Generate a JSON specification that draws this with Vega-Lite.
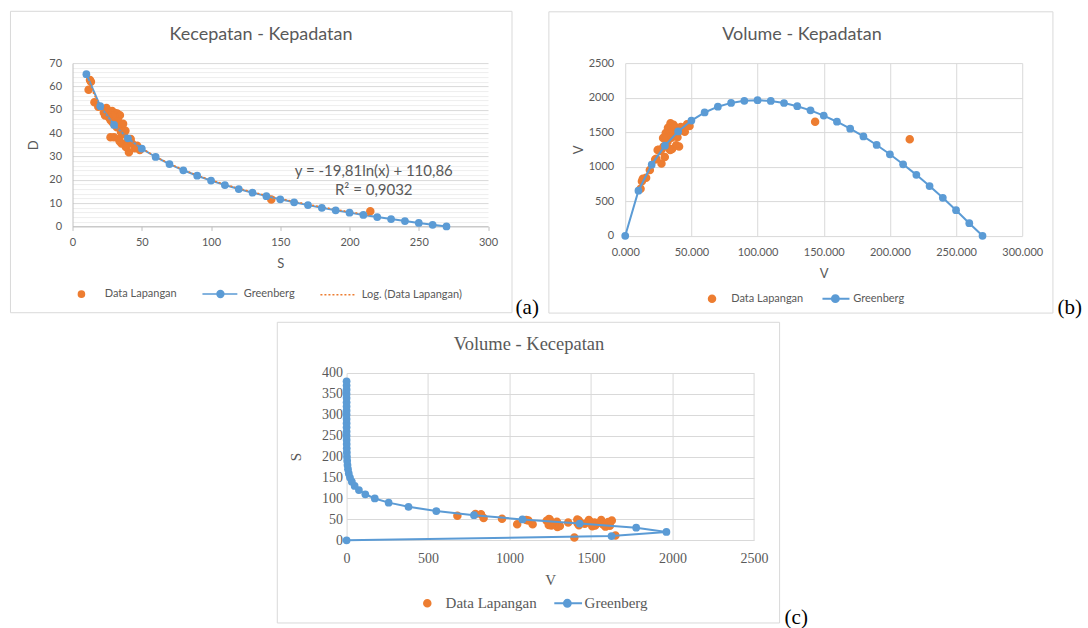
{
  "$schema": "https://vega.github.io/schema/vega-lite/v6.json",
  "padding": {"left": 9.25, "top": 10.1, "right": 0, "bottom": 0},
  "autosize": {"type": "pad"},
  "background": "white",
  "bounds": "full",
  "center": true,
  "spacing": 2.9,
  "resolve": {"scale": {"color": "independent", "shape": "independent", "stroke": "independent"}, "legend": {"color": "independent", "shape": "independent", "stroke": "independent"}},
  "config": {
    "view": {"stroke": null},
    "font": "Lato",
    "axis": {"labelColor": "#595959", "titleColor": "#595959", "labelFont": "Lato", "titleFont": "Lato", "labelFontSize": 11, "titleFontSize": 13, "titleFontWeight": "normal", "gridColor": "#D9D9D9", "gridWidth": 1, "domain": false, "ticks": false, "labelFlush": false, "labelOverlap": false, "labelAngle": 0},
    "legend": {"labelColor": "#595959", "labelFont": "Lato", "labelFontSize": 11, "padding": 0}
  },
  "datasets": {
    "lapangan": [
      {"density": 12.6, "speed": 62.8, "volume": 791},
      {"density": 13.3, "speed": 62.0, "volume": 825},
      {"density": 11.6, "speed": 58.6, "volume": 680},
      {"density": 15.8, "speed": 53.2, "volume": 841},
      {"density": 18.6, "speed": 51.3, "volume": 954},
      {"density": 24.5, "speed": 50.7, "volume": 1242},
      {"density": 22.6, "speed": 48.8, "volume": 1103},
      {"density": 23.5, "speed": 47.5, "volume": 1116},
      {"density": 25.2, "speed": 49.5, "volume": 1247},
      {"density": 26.3, "speed": 46.7, "volume": 1228},
      {"density": 28.6, "speed": 49.5, "volume": 1416},
      {"density": 30.6, "speed": 48.6, "volume": 1487},
      {"density": 32.3, "speed": 48.4, "volume": 1563},
      {"density": 34.2, "speed": 47.6, "volume": 1628},
      {"density": 31.0, "speed": 46.0, "volume": 1426},
      {"density": 33.5, "speed": 44.6, "volume": 1494},
      {"density": 35.9, "speed": 42.4, "volume": 1522},
      {"density": 38.2, "speed": 41.0, "volume": 1566},
      {"density": 27.4, "speed": 38.2, "volume": 1047},
      {"density": 29.9, "speed": 38.2, "volume": 1142},
      {"density": 33.5, "speed": 37.5, "volume": 1256},
      {"density": 35.4, "speed": 35.5, "volume": 1257},
      {"density": 39.5, "speed": 36.1, "volume": 1426},
      {"density": 43.1, "speed": 35.4, "volume": 1526},
      {"density": 46.7, "speed": 34.6, "volume": 1616},
      {"density": 40.7, "speed": 31.8, "volume": 1294},
      {"density": 48.6, "speed": 32.7, "volume": 1589},
      {"density": 45.0, "speed": 33.5, "volume": 1508},
      {"density": 37.0, "speed": 39.5, "volume": 1462},
      {"density": 36.5, "speed": 44.0, "volume": 1606},
      {"density": 29.0, "speed": 44.5, "volume": 1291},
      {"density": 27.5, "speed": 45.5, "volume": 1251},
      {"density": 32.0, "speed": 42.5, "volume": 1360},
      {"density": 35.0, "speed": 40.5, "volume": 1418},
      {"density": 42.0, "speed": 37.5, "volume": 1575},
      {"density": 38.5, "speed": 34.0, "volume": 1309},
      {"density": 143.5, "speed": 11.5, "volume": 1650},
      {"density": 215.0, "speed": 6.5, "volume": 1398},
      {"density": 30.0, "speed": 47.5, "volume": 1425},
      {"density": 34.0, "speed": 36.5, "volume": 1241}
    ],
    "greenberg_k": [
      {"density": 0, "speed": null, "volume": 0},
      {"density": 10, "speed": 65.25, "volume": 652.5},
      {"density": 20, "speed": 51.51, "volume": 1030.2},
      {"density": 30, "speed": 43.48, "volume": 1304.4},
      {"density": 40, "speed": 37.78, "volume": 1511.2},
      {"density": 50, "speed": 33.36, "volume": 1668.0},
      {"density": 60, "speed": 29.75, "volume": 1785.0},
      {"density": 70, "speed": 26.70, "volume": 1869.0},
      {"density": 80, "speed": 24.05, "volume": 1924.0},
      {"density": 90, "speed": 21.72, "volume": 1954.8},
      {"density": 100, "speed": 19.63, "volume": 1963.0},
      {"density": 110, "speed": 17.74, "volume": 1951.4},
      {"density": 120, "speed": 16.02, "volume": 1922.4},
      {"density": 130, "speed": 14.43, "volume": 1875.9},
      {"density": 140, "speed": 12.97, "volume": 1815.8},
      {"density": 150, "speed": 11.60, "volume": 1740.0},
      {"density": 160, "speed": 10.32, "volume": 1651.2},
      {"density": 170, "speed": 9.12, "volume": 1550.4},
      {"density": 180, "speed": 7.99, "volume": 1438.2},
      {"density": 190, "speed": 6.92, "volume": 1314.8},
      {"density": 200, "speed": 5.90, "volume": 1180.0},
      {"density": 210, "speed": 4.93, "volume": 1035.3},
      {"density": 220, "speed": 4.01, "volume": 882.2},
      {"density": 230, "speed": 3.13, "volume": 719.9},
      {"density": 240, "speed": 2.29, "volume": 549.6},
      {"density": 250, "speed": 1.48, "volume": 370.0},
      {"density": 260, "speed": 0.70, "volume": 182.0},
      {"density": 270, "speed": 0.00, "volume": 0}
    ],
    "greenberg_s": [
      {"speed": 0, "volume": 0},
      {"speed": 10, "volume": 1626.1},
      {"speed": 20, "volume": 1963.1},
      {"speed": 30, "volume": 1777.5},
      {"speed": 40, "volume": 1430.6},
      {"speed": 50, "volume": 1079.5},
      {"speed": 60, "volume": 781.9},
      {"speed": 70, "volume": 550.6},
      {"speed": 80, "volume": 379.9},
      {"speed": 90, "volume": 258.0},
      {"speed": 100, "volume": 173.0},
      {"speed": 110, "volume": 114.9},
      {"speed": 120, "volume": 75.6},
      {"speed": 130, "volume": 49.5},
      {"speed": 140, "volume": 32.2},
      {"speed": 150, "volume": 20.8},
      {"speed": 160, "volume": 13.4},
      {"speed": 170, "volume": 8.6},
      {"speed": 180, "volume": 5.5},
      {"speed": 190, "volume": 3.5},
      {"speed": 200, "volume": 2.2},
      {"speed": 210, "volume": 1.4},
      {"speed": 220, "volume": 0.9},
      {"speed": 230, "volume": 0.6},
      {"speed": 240, "volume": 0.35},
      {"speed": 250, "volume": 0.22},
      {"speed": 260, "volume": 0.14},
      {"speed": 270, "volume": 0.09},
      {"speed": 280, "volume": 0.05},
      {"speed": 290, "volume": 0.03},
      {"speed": 300, "volume": 0.02},
      {"speed": 310, "volume": 0.01},
      {"speed": 320, "volume": 0.01},
      {"speed": 330, "volume": 0},
      {"speed": 340, "volume": 0},
      {"speed": 350, "volume": 0},
      {"speed": 360, "volume": 0},
      {"speed": 370, "volume": 0},
      {"speed": 380, "volume": 0}
    ]
  },
  "vconcat": [
    {
      "bounds": "flush",
      "spacing": 136.7,
      "resolve": {"scale": {"color": "independent", "shape": "independent", "stroke": "independent"}, "legend": {"color": "independent", "shape": "independent", "stroke": "independent"}},
      "hconcat": [
        {
          "width": 415.5,
          "height": 163.3,
          "data": {"name": "lapangan"},
          "layer": [
            {
              "data": {"values": [{}]},
              "mark": {"type": "rect", "filled": false, "stroke": "#D9D9D9", "strokeWidth": 1},
              "encoding": {
                "x": {"datum": -44.8, "type": "quantitative", "scale": {"domain": [0, 300], "nice": false, "zero": false},
                  "axis": {"title": "S", "values": [0, 50, 100, 150, 200, 250, 300], "tickCount": 100, "format": "d", "grid": false, "domain": true, "domainColor": "#BFBFBF", "ticks": true, "tickColor": "#BFBFBF", "tickSize": 4, "labelPadding": 6, "titlePadding": 10, "labelOverlap": false}},
                "x2": {"datum": 317.3},
                "y": {"datum": 92.2, "type": "quantitative", "scale": {"domain": [0, 70], "nice": false, "zero": false},
                  "axis": {"title": "D", "values": [0, 2, 4, 6, 8, 10, 12, 14, 16, 18, 20, 22, 24, 26, 28, 30, 32, 34, 36, 38, 40, 42, 44, 46, 48, 50, 52, 54, 56, 58, 60, 62, 64, 66, 68, 70], "tickCount": 100, "format": "d", "grid": true, "gridColor": {"condition": {"test": "datum.value % 10 === 0", "value": "#D9D9D9"}, "value": "#EEEEEE"}, "labelExpr": "datum.value % 10 === 0 ? datum.label : ''", "domain": true, "domainColor": "#BFBFBF", "labelPadding": 11, "titlePadding": 8.7, "labelOverlap": false}},
                "y2": {"datum": -37.0}
              }
            },
            {
              "mark": {"type": "point", "filled": true, "size": 1697, "opacity": 1, "strokeWidth": 1.5},
              "encoding": {
                "x": {"field": "density", "type": "quantitative", "scale": {"domain": [0, 300], "nice": false, "zero": false}},
                "y": {"field": "speed", "type": "quantitative", "scale": {"domain": [0, 70], "nice": false, "zero": false}},
                "color": {"datum": "Data Lapangan", "type": "nominal",
                  "scale": {"domain": ["Data Lapangan", "Greenberg", "Log. (Data Lapangan)"], "range": ["#ED7D31", "#5B9BD5", "#ED7D31"]},
                  "legend": {"title": null, "orient": "none", "legendX": -10.1, "legendY": 211.6, "direction": "horizontal", "symbolSize": 1296, "symbolStrokeWidth": 1.5, "labelOffset": 4.3, "columnPadding": 22}},
                "stroke": {"datum": "Data Lapangan", "type": "nominal",
                  "scale": {"domain": ["Data Lapangan", "Greenberg", "Log. (Data Lapangan)"], "range": ["#ED7D31", "#5B9BD5", "#ED7D31"]},
                  "legend": {"title": null, "orient": "none", "legendX": -10.1, "legendY": 211.6, "direction": "horizontal", "symbolSize": 1296, "symbolStrokeWidth": 1.5, "labelOffset": 4.3, "columnPadding": 22}},
                "shape": {"datum": "Data Lapangan", "type": "nominal",
                  "scale": {"domain": ["Data Lapangan", "Greenberg", "Log. (Data Lapangan)"], "range": [
                    "M-0.17,0A0.17,0.17,0,1,1,0.17,0A0.17,0.17,0,1,1,-0.17,0Z",
                    "M-1,0L0.94,0M-0.19,0A0.19,0.19,0,1,1,0.19,0A0.19,0.19,0,1,1,-0.19,0Z",
                    "M-1,0L-0.889,0M-0.778,0L-0.667,0M-0.556,0L-0.444,0M-0.333,0L-0.222,0M-0.111,0L0,0M0.111,0L0.222,0M0.333,0L0.444,0M0.556,0L0.667,0M0.778,0L0.889,0"]},
                  "legend": {"title": null, "orient": "none", "legendX": -10.1, "legendY": 211.6, "direction": "horizontal", "symbolSize": 1296, "symbolStrokeWidth": 1.5, "labelOffset": 4.3, "columnPadding": 22}}
              }
            },
            {
              "data": {"name": "greenberg_k"},
              "transform": [{"filter": "datum.speed != null"}],
              "mark": {"type": "line", "color": "#5B9BD5", "strokeWidth": 2},
              "encoding": {
                "x": {"field": "density", "type": "quantitative", "scale": {"domain": [0, 300], "nice": false, "zero": false}},
                "y": {"field": "speed", "type": "quantitative", "scale": {"domain": [0, 70], "nice": false, "zero": false}}
              }
            },
            {
              "transform": [{"regression": "speed", "on": "density", "method": "log"}],
              "mark": {"type": "line", "color": "#ED7D31", "strokeWidth": 1.5, "strokeDash": [2, 2]},
              "encoding": {
                "x": {"field": "density", "type": "quantitative", "scale": {"domain": [0, 300], "nice": false, "zero": false}},
                "y": {"field": "speed", "type": "quantitative", "scale": {"domain": [0, 70], "nice": false, "zero": false}}
              }
            },
            {
              "data": {"name": "greenberg_k"},
              "transform": [{"filter": "datum.speed != null"}],
              "mark": {"type": "point", "filled": true, "size": 60, "color": "#5B9BD5", "opacity": 1},
              "encoding": {
                "x": {"field": "density", "type": "quantitative", "scale": {"domain": [0, 300], "nice": false, "zero": false}},
                "y": {"field": "speed", "type": "quantitative", "scale": {"domain": [0, 70], "nice": false, "zero": false}}
              }
            },
            {
              "data": {"values": [{}]},
              "mark": {"type": "text", "font": "Lato", "fontSize": 15, "color": "#595959", "align": "center", "baseline": "middle", "lineHeight": 19, "text": ["y = -19,81ln(x) + 110,86", "R² = 0,9032"]},
              "encoding": {
                "x": {"datum": 217.5, "type": "quantitative", "scale": {"domain": [0, 300], "nice": false, "zero": false}},
                "y": {"datum": 23.6, "type": "quantitative", "scale": {"domain": [0, 70], "nice": false, "zero": false}}
              }
            },
            {
              "data": {"values": [{}]},
              "mark": {"type": "text", "font": "Lato", "fontSize": 18, "color": "#595959", "align": "center", "baseline": "middle", "text": "Kecepatan - Kepadatan"},
              "encoding": {
                "x": {"datum": 136.1, "type": "quantitative", "scale": {"domain": [0, 300], "nice": false, "zero": false}},
                "y": {"datum": 81.9, "type": "quantitative", "scale": {"domain": [0, 70], "nice": false, "zero": false}}
              }
            },
            {
              "data": {"values": [{}]},
              "mark": {"type": "text", "font": "Liberation Serif", "fontSize": 21, "color": "#000000", "align": "center", "baseline": "middle", "text": "(a)"},
              "encoding": {
                "x": {"datum": 328.3, "type": "quantitative", "scale": {"domain": [0, 300], "nice": false, "zero": false}},
                "y": {"datum": -34.8, "type": "quantitative", "scale": {"domain": [0, 70], "nice": false, "zero": false}}
              }
            }
          ]
        },
        {
          "width": 397,
          "height": 172.7,
          "data": {"name": "lapangan"},
          "layer": [
            {
              "data": {"values": [{}]},
              "mark": {"type": "rect", "filled": false, "stroke": "#D9D9D9", "strokeWidth": 1},
              "encoding": {
                "x": {"datum": -57.7, "type": "quantitative", "scale": {"domain": [0, 300], "nice": false, "zero": false},
                  "axis": {"title": "V", "values": [0, 50, 100, 150, 200, 250, 300], "tickCount": 100, "labelExpr": "datum.value + '.000'", "grid": true, "labelPadding": 11, "titlePadding": 10, "labelOverlap": false}},
                "x2": {"datum": 323.2},
                "y": {"datum": 3242.6, "type": "quantitative", "scale": {"domain": [0, 2500], "nice": false, "zero": false},
                  "axis": {"title": "V", "values": [0, 500, 1000, 1500, 2000, 2500], "tickCount": 100, "format": "d", "grid": true, "labelPadding": 11.5, "titlePadding": 3, "labelOverlap": false}},
                "y2": {"datum": -1119}
              }
            },
            {
              "mark": {"type": "point", "filled": true, "size": 1043, "opacity": 1, "strokeWidth": 1.5},
              "encoding": {
                "x": {"field": "density", "type": "quantitative", "scale": {"domain": [0, 300], "nice": false, "zero": false}},
                "y": {"field": "volume", "type": "quantitative", "scale": {"domain": [0, 2500], "nice": false, "zero": false}},
                "color": {"datum": "Data Lapangan", "type": "nominal",
                  "scale": {"domain": ["Data Lapangan", "Greenberg"], "range": ["#ED7D31", "#5B9BD5"]},
                  "legend": {"title": null, "orient": "none", "legendX": 70.8, "legendY": 219.3, "direction": "horizontal", "symbolSize": 900, "symbolStrokeWidth": 2, "labelOffset": 3.2, "columnPadding": 14}},
                "stroke": {"datum": "Data Lapangan", "type": "nominal",
                  "scale": {"domain": ["Data Lapangan", "Greenberg"], "range": ["#ED7D31", "#5B9BD5"]},
                  "legend": {"title": null, "orient": "none", "legendX": 70.8, "legendY": 219.3, "direction": "horizontal", "symbolSize": 900, "symbolStrokeWidth": 2, "labelOffset": 3.2, "columnPadding": 14}},
                "shape": {"datum": "Data Lapangan", "type": "nominal",
                  "scale": {"domain": ["Data Lapangan", "Greenberg"], "range": [
                    "M-0.217,0A0.217,0.217,0,1,1,0.217,0A0.217,0.217,0,1,1,-0.217,0Z",
                    "M-0.77,0L1.03,0M-0.14,0A0.23,0.23,0,1,1,0.32,0A0.23,0.23,0,1,1,-0.14,0Z"]},
                  "legend": {"title": null, "orient": "none", "legendX": 70.8, "legendY": 219.3, "direction": "horizontal", "symbolSize": 900, "symbolStrokeWidth": 2, "labelOffset": 3.2, "columnPadding": 14}}
              }
            },
            {
              "data": {"name": "greenberg_k"},
              "mark": {"type": "line", "color": "#5B9BD5", "strokeWidth": 2},
              "encoding": {
                "x": {"field": "density", "type": "quantitative", "scale": {"domain": [0, 300], "nice": false, "zero": false}},
                "y": {"field": "volume", "type": "quantitative", "scale": {"domain": [0, 2500], "nice": false, "zero": false}}
              }
            },
            {
              "data": {"name": "greenberg_k"},
              "mark": {"type": "point", "filled": true, "size": 60, "color": "#5B9BD5", "opacity": 1},
              "encoding": {
                "x": {"field": "density", "type": "quantitative", "scale": {"domain": [0, 300], "nice": false, "zero": false}},
                "y": {"field": "volume", "type": "quantitative", "scale": {"domain": [0, 2500], "nice": false, "zero": false}}
              }
            },
            {
              "data": {"values": [{}]},
              "mark": {"type": "text", "font": "Lato", "fontSize": 18, "color": "#595959", "align": "center", "baseline": "middle", "text": "Volume - Kepadatan"},
              "encoding": {
                "x": {"datum": 133.6, "type": "quantitative", "scale": {"domain": [0, 300], "nice": false, "zero": false}},
                "y": {"datum": 2905, "type": "quantitative", "scale": {"domain": [0, 2500], "nice": false, "zero": false}}
              }
            },
            {
              "data": {"values": [{}]},
              "mark": {"type": "text", "font": "Liberation Serif", "fontSize": 21, "color": "#000000", "align": "center", "baseline": "middle", "text": "(b)"},
              "encoding": {
                "x": {"datum": 335.9, "type": "quantitative", "scale": {"domain": [0, 300], "nice": false, "zero": false}},
                "y": {"datum": -1046.6, "type": "quantitative", "scale": {"domain": [0, 2500], "nice": false, "zero": false}}
              }
            }
          ]
        }
      ]
    },
    {
      "width": 407.3,
      "height": 167.3,
      "data": {"name": "lapangan"},
      "layer": [
        {
          "data": {"values": [{}]},
          "mark": {"type": "rect", "filled": false, "stroke": "#D9D9D9", "strokeWidth": 1},
          "encoding": {
            "x": {"datum": -425.4, "type": "quantitative", "scale": {"domain": [0, 2500], "nice": false, "zero": false},
              "axis": {"title": "V", "values": [0, 500, 1000, 1500, 2000, 2500], "tickCount": 100, "format": "d", "grid": true, "labelFont": "Liberation Serif", "titleFont": "Liberation Serif", "labelFontSize": 14, "titleFontSize": 15, "labelPadding": 11, "titlePadding": 7, "labelOverlap": false}},
            "x2": {"datum": 2657.7},
            "y": {"datum": 521.2, "type": "quantitative", "scale": {"domain": [0, 400], "nice": false, "zero": false},
              "axis": {"title": "S", "values": [0, 50, 100, 150, 200, 250, 300, 350, 400], "tickCount": 100, "format": "d", "grid": true, "labelFont": "Liberation Serif", "titleFont": "Liberation Serif", "labelFontSize": 14, "titleFontSize": 15, "labelPadding": 4, "titlePadding": 17.6, "labelOverlap": false}},
            "y2": {"datum": -197.7}
          }
        },
        {
          "mark": {"type": "point", "filled": true, "size": 1043, "opacity": 1, "strokeWidth": 1.5},
          "encoding": {
            "x": {"field": "volume", "type": "quantitative", "scale": {"domain": [0, 2500], "nice": false, "zero": false}},
            "y": {"field": "speed", "type": "quantitative", "scale": {"domain": [0, 400], "nice": false, "zero": false}},
            "color": {"datum": "Data Lapangan", "type": "nominal",
              "scale": {"domain": ["Data Lapangan", "Greenberg"], "range": ["#ED7D31", "#5B9BD5"]},
              "legend": {"title": null, "orient": "none", "legendX": 64.7, "legendY": 214.3, "direction": "horizontal", "symbolSize": 900, "symbolStrokeWidth": 2, "labelOffset": 2.3, "columnPadding": 13, "labelFont": "Liberation Serif", "labelFontSize": 15}},
            "stroke": {"datum": "Data Lapangan", "type": "nominal",
              "scale": {"domain": ["Data Lapangan", "Greenberg"], "range": ["#ED7D31", "#5B9BD5"]},
              "legend": {"title": null, "orient": "none", "legendX": 64.7, "legendY": 214.3, "direction": "horizontal", "symbolSize": 900, "symbolStrokeWidth": 2, "labelOffset": 2.3, "columnPadding": 13, "labelFont": "Liberation Serif", "labelFontSize": 15}},
            "shape": {"datum": "Data Lapangan", "type": "nominal",
              "scale": {"domain": ["Data Lapangan", "Greenberg"], "range": [
                "M-0.217,0A0.217,0.217,0,1,1,0.217,0A0.217,0.217,0,1,1,-0.217,0Z",
                "M-0.8,0L1.05,0M-0.16,0A0.23,0.23,0,1,1,0.3,0A0.23,0.23,0,1,1,-0.16,0Z"]},
              "legend": {"title": null, "orient": "none", "legendX": 64.7, "legendY": 214.3, "direction": "horizontal", "symbolSize": 900, "symbolStrokeWidth": 2, "labelOffset": 2.3, "columnPadding": 13, "labelFont": "Liberation Serif", "labelFontSize": 15}}
          }
        },
        {
          "data": {"name": "greenberg_s"},
          "mark": {"type": "line", "color": "#5B9BD5", "strokeWidth": 2},
          "encoding": {
            "x": {"field": "volume", "type": "quantitative", "scale": {"domain": [0, 2500], "nice": false, "zero": false}},
            "y": {"field": "speed", "type": "quantitative", "scale": {"domain": [0, 400], "nice": false, "zero": false}},
            "order": {"field": "speed", "type": "quantitative"}
          }
        },
        {
          "data": {"name": "greenberg_s"},
          "mark": {"type": "point", "filled": true, "size": 60, "color": "#5B9BD5", "opacity": 1},
          "encoding": {
            "x": {"field": "volume", "type": "quantitative", "scale": {"domain": [0, 2500], "nice": false, "zero": false}},
            "y": {"field": "speed", "type": "quantitative", "scale": {"domain": [0, 400], "nice": false, "zero": false}}
          }
        },
        {
          "data": {"values": [{}]},
          "mark": {"type": "text", "font": "Liberation Serif", "fontSize": 18.5, "color": "#595959", "align": "center", "baseline": "middle", "text": "Volume - Kecepatan"},
          "encoding": {
            "x": {"datum": 1119.6, "type": "quantitative", "scale": {"domain": [0, 2500], "nice": false, "zero": false}},
            "y": {"datum": 469.3, "type": "quantitative", "scale": {"domain": [0, 400], "nice": false, "zero": false}}
          }
        },
        {
          "data": {"values": [{}]},
          "mark": {"type": "text", "font": "Liberation Serif", "fontSize": 21, "color": "#000000", "align": "center", "baseline": "middle", "text": "(c)"},
          "encoding": {
            "x": {"datum": 2760, "type": "quantitative", "scale": {"domain": [0, 2500], "nice": false, "zero": false}},
            "y": {"datum": -185.8, "type": "quantitative", "scale": {"domain": [0, 400], "nice": false, "zero": false}}
          }
        }
      ]
    }
  ]
}
